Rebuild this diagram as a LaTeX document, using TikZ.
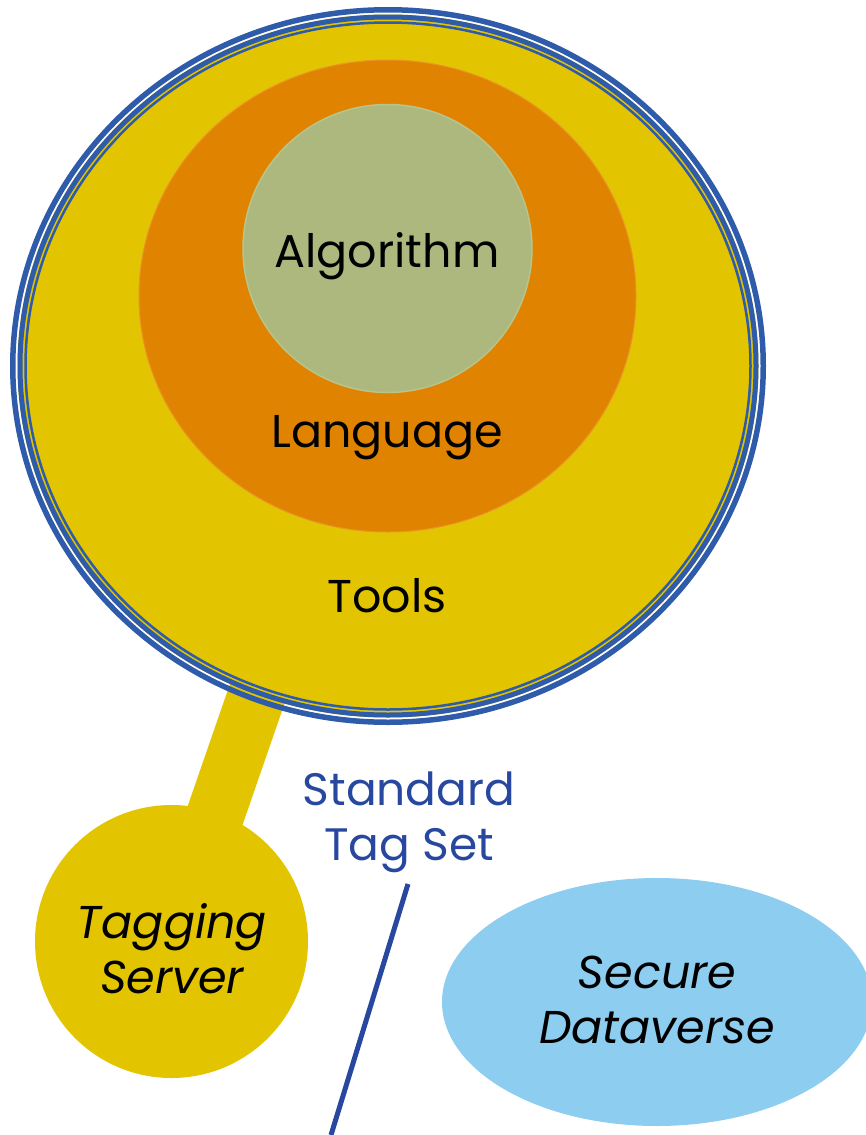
\documentclass[tikz,border=0pt]{standalone}
\usepackage{fontspec}
\setmainfont{Poppins}
\usetikzlibrary{shapes.geometric,backgrounds}
\definecolor{toolyellow}{RGB}{226,196,0}
\definecolor{langorange}{RGB}{224,131,0}
\definecolor{langedge}{RGB}{234,148,40}
\definecolor{algogreen}{RGB}{173,184,126}
\definecolor{algoedge}{RGB}{184,196,138}
\definecolor{dvblue}{RGB}{141,205,240}
\definecolor{ringblue}{RGB}{46,91,170}
\definecolor{tagblue}{RGB}{40,72,160}
\begin{document}
\begin{tikzpicture}[x=1pt,y=-1pt,
  blob/.style={ellipse,inner sep=0pt,outer sep=0pt},
  biglabel/.style={font=\fontsize{46}{55}\selectfont,text=black,inner sep=0pt,anchor=base},
  sidelabel/.style={font=\fontsize{46}{55}\selectfont\itshape,text=black,inner sep=0pt,align=center,anchor=base},
  ring/.style={draw=ringblue},
  stickstyle/.style={draw=toolyellow,line width=58pt}]
\useasboundingbox (0,0) rectangle (866,1135);

% nested circles: Tools > Language > Algorithm
\node[blob,fill=toolyellow,minimum width=741pt,minimum height=703pt] (tools) at (388,366) {};
\draw[ring,line width=5.5pt] (tools.center) ellipse [x radius=375.25pt,y radius=356.25pt];
\draw[ring,line width=5pt] (tools.center) ellipse [x radius=368pt,y radius=349pt];
\draw[ring,line width=2.5pt] (tools.center) ellipse [x radius=362.5pt,y radius=343.5pt];

\node[blob,fill=langorange,draw=langedge,line width=1pt,minimum width=497pt,minimum height=472pt] (language) at (387.5,296) {};
\node[blob,fill=algogreen,draw=algoedge,line width=1.5pt,minimum width=289pt,minimum height=288pt] (algorithm) at (387.5,248.5) {};

\node[biglabel] (algolbl) at (387,267) {Algorithm};
\node[biglabel] (langlbl) at (387,447) {Language};
\node[biglabel] (toolslbl) at (387,612) {Tools};

% tagging server hanging from the tools circle
\node[blob,fill=toolyellow,minimum width=273pt,minimum height=273pt] (tagging) at (171.5,941.5) {};
\coordinate (stickend) at (262,680);
\begin{scope}[on background layer]
  \draw[stickstyle] (tagging.center) -- (stickend);
\end{scope}
\node[sidelabel] (taglbl) at (172,993) {Tagging\\Server};

% standard tag set
\node[font=\fontsize{45.5}{55}\selectfont,text=tagblue,inner sep=0pt,align=center,anchor=base] (stslbl) at (409,860) {Standard\\Tag Set};
\coordinate (ststop) at (408,884);
\coordinate (stsbottom) at (331,1135);
\draw[tagblue,line width=5pt] (ststop) -- (stsbottom);

% secure dataverse
\node[blob,fill=dvblue,minimum width=430pt,minimum height=248pt] (dataverse) at (657,1002) {};
\node[sidelabel] (dvlbl) at (657,1043) {Secure\\Dataverse};
\end{tikzpicture}
\end{document}
